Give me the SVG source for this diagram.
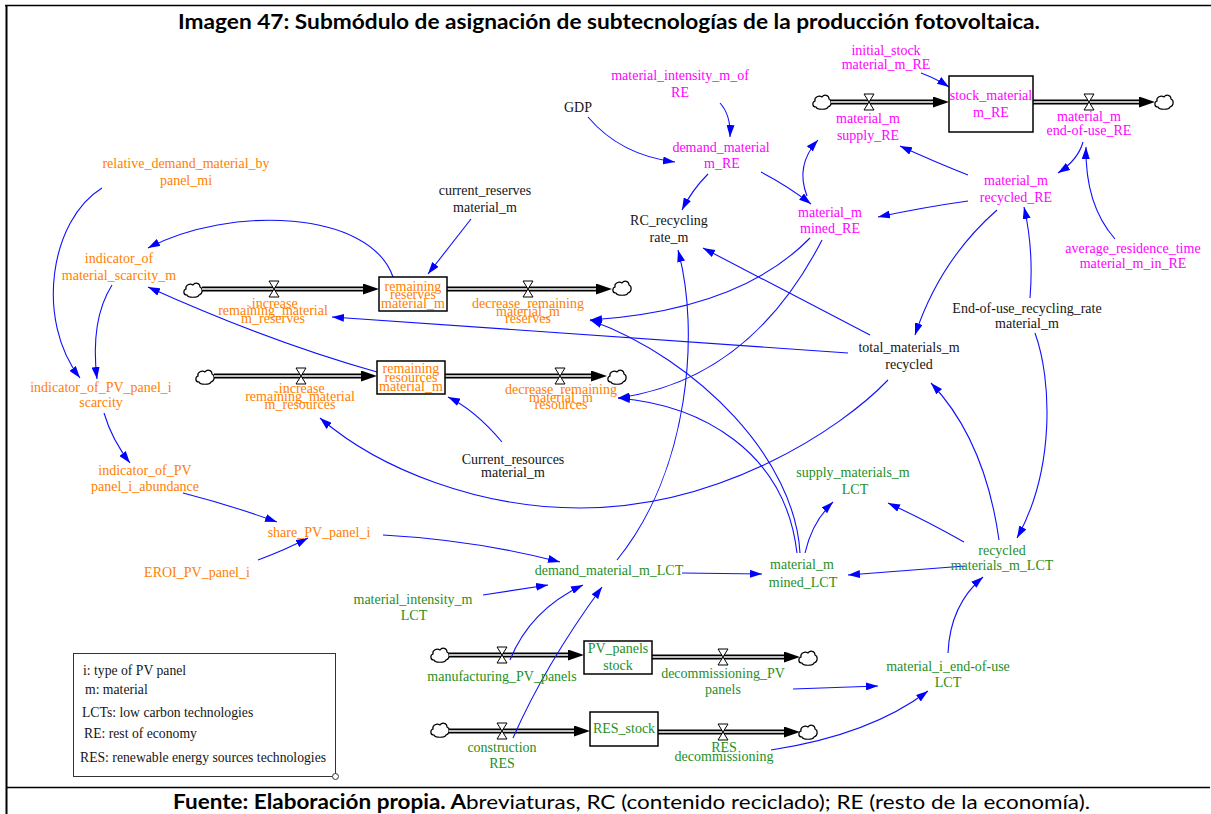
<svg xmlns="http://www.w3.org/2000/svg" width="1211" height="814" viewBox="0 0 1211 814">
  <style>
    .lbl { font-family: "Liberation Serif", "Times New Roman", serif; font-size: 14px; text-anchor: middle; }
    .o { fill: #FF8000; }
    .mg { fill: #FF00FF; }
    .g { fill: #1F8F1F; }
    .k { fill: #151515; }
    .stock { fill: #FFFFFF; stroke: #000000; stroke-width: 1.5; }
    .pipe { fill: none; stroke: #000000; stroke-width: 5; }
    .pipe-in { fill: none; stroke: #FFFFFF; stroke-width: 1.6; }
    .link { fill: none; stroke: #1010FF; stroke-width: 1.1; marker-end: url(#ah); }
    .frame { stroke: #000000; fill: none; }
    .legend { font-family: "Liberation Serif", "Times New Roman", serif; font-size: 13.7px; fill: #151515; }
    .cap { font-family: Lato, "Liberation Sans", sans-serif; font-size: 20px; fill: #000000; }
  </style>
  <defs>
    <marker id="ah" viewBox="0 0 12 8" refX="12" refY="4" markerWidth="12" markerHeight="8" markerUnits="userSpaceOnUse" orient="auto">
      <path d="M0,0 L12,4 L0,8 z" fill="#0000FF"/>
    </marker>
    <marker id="fh" viewBox="0 0 16 11" refX="0" refY="5.5" markerWidth="16" markerHeight="11" markerUnits="userSpaceOnUse" orient="auto">
      <path d="M0,0 L16,5.5 L0,11 z" fill="#000000"/>
    </marker>
    <symbol id="cloud" overflow="visible">
      <path d="M-6,5 C-10,5 -10,0 -7,-1 C-8,-5 -3,-7 0,-5 C2,-8 7,-7 7,-3 C10,-2 10,4 6,5 C5,8 -5,8 -6,5 Z" fill="#FFFFFF" stroke="#000000" stroke-width="1.2"/>
    </symbol>
    <symbol id="valve" overflow="visible">
      <path d="M-5,-8 H5 L0,0 Z M-5,8 H5 L0,0 Z" fill="#FFFFFF" stroke="#000000" stroke-width="1"/>
    </symbol>
  </defs>

  <!-- outer frame and caption rows -->
  <g id="frame">
    <line class="frame" x1="5" y1="5.5" x2="1211" y2="5.5" stroke-width="1.6"/>
    <line class="frame" x1="6.5" y1="5" x2="6.5" y2="814" stroke-width="2"/>
    <line class="frame" x1="6" y1="787.5" x2="1210" y2="787.5" stroke-width="1.5"/>
    <text class="cap" x="178" y="29" font-weight="bold" textLength="862" lengthAdjust="spacingAndGlyphs">Imagen  47: Submódulo de asignación de subtecnologías de la producción fotovoltaica.</text>
    <text class="cap" x="173" y="809" textLength="917" lengthAdjust="spacingAndGlyphs"><tspan font-weight="bold">Fuente: Elaboración propia. A</tspan>breviaturas, RC (contenido reciclado); RE (resto de la economía).</text>
  </g>

  <!-- stock-and-flow pipes -->
  <g id="pipes">
    <!-- stock_material m_RE -->
    <use href="#cloud" x="822" y="102"/>
    <path class="pipe" d="M831,102 H933" marker-end="url(#fh)"/>
    <path class="pipe-in" d="M831,102 H933"/>
    <path class="pipe" d="M1033,102 H1139" marker-end="url(#fh)"/>
    <path class="pipe-in" d="M1033,102 H1139"/>
    <use href="#cloud" x="1164" y="102"/>
    <!-- remaining reserves -->
    <use href="#cloud" x="193" y="290"/>
    <path class="pipe" d="M202,289 H363" marker-end="url(#fh)"/>
    <path class="pipe-in" d="M202,289 H363"/>
    <path class="pipe" d="M447,289 H596" marker-end="url(#fh)"/>
    <path class="pipe-in" d="M447,289 H596"/>
    <use href="#cloud" x="622" y="288"/>
    <!-- remaining resources -->
    <use href="#cloud" x="205" y="377"/>
    <path class="pipe" d="M214,376 H361" marker-end="url(#fh)"/>
    <path class="pipe-in" d="M214,376 H361"/>
    <path class="pipe" d="M445,376 H591" marker-end="url(#fh)"/>
    <path class="pipe-in" d="M445,376 H591"/>
    <use href="#cloud" x="617" y="377"/>
    <!-- PV panels stock -->
    <use href="#cloud" x="440" y="655"/>
    <path class="pipe" d="M449,655 H568" marker-end="url(#fh)"/>
    <path class="pipe-in" d="M449,655 H568"/>
    <path class="pipe" d="M652,657 H784" marker-end="url(#fh)"/>
    <path class="pipe-in" d="M652,657 H784"/>
    <use href="#cloud" x="808" y="658"/>
    <!-- RES stock -->
    <use href="#cloud" x="440" y="730"/>
    <path class="pipe" d="M449,731 H574" marker-end="url(#fh)"/>
    <path class="pipe-in" d="M449,731 H574"/>
    <path class="pipe" d="M658,732 H784" marker-end="url(#fh)"/>
    <path class="pipe-in" d="M658,732 H784"/>
    <use href="#cloud" x="808" y="732"/>
  </g>

  <!-- causal links -->
  <g id="connectors">
    <path class="link" d="M921,73 Q937,79 949,87"/>
    <path class="link" d="M720,103 Q731,115 730,137"/>
    <path class="link" d="M588,117 Q620,155 675,162"/>
    <path class="link" d="M708,174 Q692,190 682,210"/>
    <path class="link" d="M761,172 Q788,186 811,204"/>
    <path class="link" d="M807,196 Q795,165 818,140"/>
    <path class="link" d="M968,175 Q935,162 900,146"/>
    <path class="link" d="M968,201 Q925,207 878,217"/>
    <path class="link" d="M1083,142 Q1078,160 1058,173"/>
    <path class="link" d="M1115,239 Q1085,205 1086,147"/>
    <path class="link" d="M1030,298 Q1034,250 1024,207"/>
    <path class="link" d="M997,210 Q940,260 915,335"/>
    <path class="link" d="M1035,333 C1052,380 1055,470 1017,538"/>
    <path class="link" d="M999,540 Q985,440 931,383"/>
    <path class="link" d="M964,542 Q925,520 888,503"/>
    <path class="link" d="M965,566 L848,575"/>
    <path class="link" d="M948,653 Q950,605 983,577"/>
    <path class="link" d="M793,689 L878,686"/>
    <path class="link" d="M771,750 Q870,735 928,691"/>
    <path class="link" d="M805,553 Q812,522 833,502"/>
    <path class="link" d="M682,573 L762,574"/>
    <path class="link" d="M383,535 Q475,540 560,562"/>
    <path class="link" d="M258,560 Q285,550 308,538"/>
    <path class="link" d="M183,493 Q230,505 277,522"/>
    <path class="link" d="M104,413 Q112,440 130,463"/>
    <path class="link" d="M112,285 Q90,320 97,379"/>
    <path class="link" d="M102,188 C50,220 35,320 80,378"/>
    <path class="link" d="M393,277 C370,210 230,205 148,248"/>
    <path class="link" d="M377,372 Q270,342 148,287"/>
    <path class="link" d="M471,219 L428,274"/>
    <path class="link" d="M502,442 Q475,410 448,397"/>
    <path class="link" d="M848,353 L332,317"/>
    <path class="link" d="M870,335 L703,248"/>
    <path class="link" d="M888,380 C840,430 720,508 580,508 C480,508 380,470 320,418"/>
    <path class="link" d="M617,560 C690,470 700,330 678,250"/>
    <path class="link" d="M810,238 Q740,310 590,320"/>
    <path class="link" d="M822,240 Q750,380 618,398"/>
    <path class="link" d="M800,553 C795,460 700,360 590,320"/>
    <path class="link" d="M797,553 C785,450 700,405 618,398"/>
    <path class="link" d="M483,595 L548,585"/>
    <path class="link" d="M510,660 Q530,610 583,585"/>
    <path class="link" d="M513,738 Q545,665 602,587"/>
  </g>

  <!-- rest of economy (RE) material stock -->
  <g id="initial-stock-re"><text class="lbl mg" x="886" y="55">initial_stock</text><text class="lbl mg" x="886" y="69">material_m_RE</text></g>
  <g id="stock-material-re"><rect class="stock" x="949" y="76" width="84" height="56"/><text class="lbl mg" x="991" y="100">stock_material</text><text class="lbl mg" x="991" y="117">m_RE</text></g>
  <g id="supply-re"><use href="#valve" x="869" y="102"/><text class="lbl mg" x="868" y="123">material_m</text><text class="lbl mg" x="868" y="140">supply_RE</text></g>
  <g id="end-of-use-re"><use href="#valve" x="1089" y="102"/><text class="lbl mg" x="1089" y="121">material_m</text><text class="lbl mg" x="1089" y="135">end-of-use_RE</text></g>
  <g id="intensity-re"><text class="lbl mg" x="680" y="80">material_intensity_m_of</text><text class="lbl mg" x="680" y="97">RE</text></g>
  <g id="gdp"><text class="lbl k" x="578" y="112">GDP</text></g>
  <g id="demand-re"><text class="lbl mg" x="721" y="152">demand_material</text><text class="lbl mg" x="722" y="168">m_RE</text></g>
  <g id="mined-re"><text class="lbl mg" x="830" y="217">material_m</text><text class="lbl mg" x="830" y="233">mined_RE</text></g>
  <g id="recycled-re"><text class="lbl mg" x="1016" y="185">material_m</text><text class="lbl mg" x="1016" y="202">recycled_RE</text></g>
  <g id="residence-time"><text class="lbl mg" x="1133" y="253">average_residence_time</text><text class="lbl mg" x="1133" y="268">material_m_in_RE</text></g>

  <!-- shared material variables -->
  <g id="current-reserves"><text class="lbl k" x="485" y="195">current_reserves</text><text class="lbl k" x="485" y="212">material_m</text></g>
  <g id="rc-rate"><text class="lbl k" x="669" y="225">RC_recycling</text><text class="lbl k" x="669" y="242">rate_m</text></g>
  <g id="eou-rate"><text class="lbl k" x="1027" y="313">End-of-use_recycling_rate</text><text class="lbl k" x="1027" y="328">material_m</text></g>
  <g id="total-recycled"><text class="lbl k" x="909" y="352">total_materials_m</text><text class="lbl k" x="909" y="369">recycled</text></g>
  <g id="current-resources"><text class="lbl k" x="513" y="464">Current_resources</text><text class="lbl k" x="513" y="477">material_m</text></g>

  <!-- scarcity and allocation -->
  <g id="relative-demand"><text class="lbl o" x="186" y="168">relative_demand_material_by</text><text class="lbl o" x="186" y="185">panel_mi</text></g>
  <g id="scarcity-m"><text class="lbl o" x="119" y="263">indicator_of</text><text class="lbl o" x="119" y="280">material_scarcity_m</text></g>
  <g id="pv-scarcity"><text class="lbl o" x="101" y="392">indicator_of_PV_panel_i</text><text class="lbl o" x="101" y="407">scarcity</text></g>
  <g id="pv-abundance"><text class="lbl o" x="145" y="475">indicator_of_PV</text><text class="lbl o" x="145" y="491">panel_i_abundance</text></g>
  <g id="share-pv"><text class="lbl o" x="319" y="537">share_PV_panel_i</text></g>
  <g id="eroi-pv"><text class="lbl o" x="197" y="577">EROI_PV_panel_i</text></g>
  <g id="reserves"><rect class="stock" x="379" y="277" width="68" height="34"/><text class="lbl o" x="413" y="291">remaining</text><text class="lbl o" x="413" y="299">reserves</text><text class="lbl o" x="413" y="308">material_m</text></g>
  <g id="inc-reserves"><use href="#valve" x="274" y="289"/><text class="lbl o" x="273" y="308">.increase</text><text class="lbl o" x="273" y="315">remaining_material</text><text class="lbl o" x="273" y="323">m_reserves</text></g>
  <g id="dec-reserves"><use href="#valve" x="528" y="289"/><text class="lbl o" x="528" y="308">decrease_remaining</text><text class="lbl o" x="528" y="316">material_m</text><text class="lbl o" x="528" y="323">reserves</text></g>
  <g id="resources"><rect class="stock" x="377" y="361" width="68" height="33"/><text class="lbl o" x="411" y="373">remaining</text><text class="lbl o" x="411" y="382">resources</text><text class="lbl o" x="411" y="391">material_m</text></g>
  <g id="inc-resources"><use href="#valve" x="301" y="376"/><text class="lbl o" x="300" y="393">.increase</text><text class="lbl o" x="300" y="401">remaining_material</text><text class="lbl o" x="300" y="409">m_resources</text></g>
  <g id="dec-resources"><use href="#valve" x="560" y="376"/><text class="lbl o" x="561" y="394">decrease_remaining</text><text class="lbl o" x="561" y="402">material_m</text><text class="lbl o" x="561" y="409">resources</text></g>

  <!-- low carbon technologies (LCT) -->
  <g id="supply-lct"><text class="lbl g" x="853" y="477">supply_materials_m</text><text class="lbl g" x="855" y="494">LCT</text></g>
  <g id="recycled-lct"><text class="lbl g" x="1002" y="555">recycled</text><text class="lbl g" x="1002" y="570">materials_m_LCT</text></g>
  <g id="mined-lct"><text class="lbl g" x="802" y="569">material_m</text><text class="lbl g" x="803" y="587">mined_LCT</text></g>
  <g id="demand-lct"><text class="lbl g" x="609" y="575">demand_material_m_LCT</text></g>
  <g id="intensity-lct"><text class="lbl g" x="413" y="604">material_intensity_m</text><text class="lbl g" x="414" y="620">LCT</text></g>
  <g id="pv-stock"><rect class="stock" x="584" y="641" width="68" height="33"/><text class="lbl g" x="618" y="653">PV_panels</text><text class="lbl g" x="618" y="670">stock</text></g>
  <g id="manufacturing-pv"><use href="#valve" x="502" y="655"/><text class="lbl g" x="502" y="681">manufacturing_PV_panels</text></g>
  <g id="decommissioning-pv"><use href="#valve" x="723" y="657"/><text class="lbl g" x="723" y="678">decommissioning_PV</text><text class="lbl g" x="723" y="694">panels</text></g>
  <g id="res-stock"><rect class="stock" x="590" y="712" width="68" height="34"/><text class="lbl g" x="624" y="733">RES_stock</text></g>
  <g id="construction-res"><use href="#valve" x="502" y="731"/><text class="lbl g" x="502" y="752">construction</text><text class="lbl g" x="502" y="768">RES</text></g>
  <g id="decommissioning-res"><use href="#valve" x="723" y="732"/><text class="lbl g" x="724" y="752">RES</text><text class="lbl g" x="724" y="761">decommissioning</text></g>
  <g id="eou-lct"><text class="lbl g" x="948" y="671">material_i_end-of-use</text><text class="lbl g" x="948" y="687">LCT</text></g>

  <!-- legend -->
  <g id="legend">
    <rect x="73.5" y="653.5" width="262" height="123" fill="#FFFFFF" stroke="#333333" stroke-width="1"/>
    <circle cx="335.5" cy="776.5" r="3" fill="#FFFFFF" stroke="#333333" stroke-width="1"/>
    <text class="legend" x="83" y="675">i: type of PV panel</text>
    <text class="legend" x="85" y="694">m: material</text>
    <text class="legend" x="82" y="717">LCTs: low carbon technologies</text>
    <text class="legend" x="84" y="738">RE: rest of economy</text>
    <text class="legend" x="80" y="762">RES: renewable energy sources technologies</text>
  </g>
</svg>
